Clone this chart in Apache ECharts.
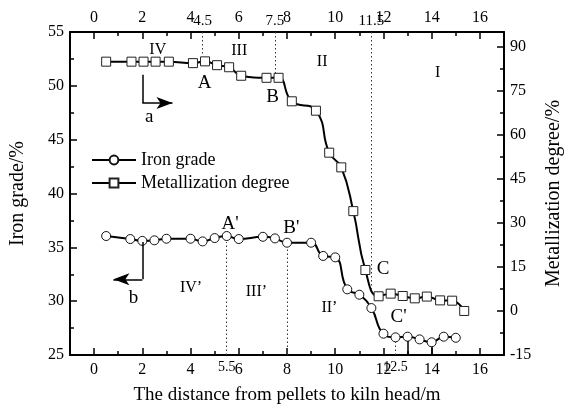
<!DOCTYPE html>
<html>
<head>
<meta charset="utf-8">
<style>html,body{margin:0;padding:0;background:#fff;}#c{width:572px;height:411px;}</style>
<script src="https://cdn.jsdelivr.net/npm/echarts@6/dist/echarts.min.js"></script>
</head>
<body>
<div id="c"></div>
<script>
// ---- data ----
const ironX = [0.5,1.5,2,2.5,3,4,4.5,5,5.5,6,7,7.5,8,9,9.5,10,10.5,11,11.5,12,12.5,13,13.5,14,14.5,15];
const ironGrade = [36.05,35.77,35.6,35.65,35.8,35.8,35.55,35.86,36.05,35.77,35.98,35.83,35.43,35.43,34.2,34.07,31.1,30.6,29.36,26.98,26.64,26.7,26.45,26.18,26.7,26.6];
const metX = [0.5,1.55,2.05,2.55,3.1,4.1,4.6,5.1,5.6,6.1,7.15,7.65,8.2,9.2,9.75,10.25,10.75,11.25,11.8,12.3,12.8,13.3,13.8,14.35,14.85,15.35];
const metallization = [84.9,84.9,84.9,84.9,84.9,84.4,85.0,83.7,83.0,80.1,79.4,79.4,71.4,68.2,53.9,48.9,34.0,13.95,5.0,5.9,5.1,4.3,4.9,3.6,3.5,0.0];
const xMajorTicks = [0,2,4,6,8,10,12,14,16];
const xMinorTicks = [1,3,5,7,9,11,13,15];
const topExtraTicks = [4.5,7.5,11.5];
const bottomExtraTicks = [5.5,12.5];
const seriesNames = ['Iron grade','Metallization degree'];
const xName = 'The distance from pellets to kiln head/m';
const yLeftName = 'Iron grade/%';
const yRightName = 'Metallization degree/%';
// annotation anchors (data space)
const topDotted = [[4.5,95,87],[7.5,95,80.5],[11.5,95,7]];          // on metallization axis
const bottomDotted = [[5.5,25,35.5],[8,25,35.0],[12.5,25,26.2]];     // on iron axis
const bottomSolid = [[13,25,26.3],[14,25,25.8]];
const metLabels = [['IV',2.64,88.9],['III',6.02,88.5],['II',9.46,84.8],['I',14.25,81.0],['A',4.58,77.6],['B',7.4,72.9],['C',11.99,14.3],['a',2.29,66.1]];
const ironLabels = [["A'",5.64,37.16],["B'",8.18,36.8],["C'",12.63,28.5],['II\u2019',9.76,29.36],['IV\u2019',4.02,31.2],['III\u2019',6.73,30.85],['b',1.63,30.3]];
const arrowA = [[2,80.4],[2,70.8],[3.25,70.8]];
const arrowB = [[2,35.5],[2,32.03],[0.8,32.03]];

const FONT = 'Liberation Serif';
const chart = echarts.init(document.getElementById('c'), null, {renderer:'canvas'});

function xAx(pos, ticks, len, labels, showLine, labelSize, margin) {
  return {
    type:'value', position:pos, min:-1, max:17, offset:0,
    axisLine:{show:showLine, onZero:false, lineStyle:{color:'#000', width:2}},
    axisTick:{show:len>0, inside:true, length:len, customValues:ticks, lineStyle:{color:'#000', width:1.5}},
    axisLabel:{show:labels, customValues:ticks, color:'#000', fontFamily:FONT, fontSize:labelSize, margin:margin},
    splitLine:{show:false}, minorTick:{show:false}
  };
}

const xAxes = [
  Object.assign(xAx('bottom', xMajorTicks, 7, true, true, 16, 7), {name:xName, nameLocation:'middle', nameGap:31, nameTextStyle:{color:'#000', fontFamily:FONT, fontSize:19}}),
  xAx('bottom', xMinorTicks, 4, false, false, 16, 7),
  xAx('bottom', bottomExtraTicks, 0, true, false, 14, 5),
  xAx('top', xMajorTicks, 7, true, true, 16, 6),
  xAx('top', xMinorTicks, 4, false, false, 16, 6),
  xAx('top', topExtraTicks, 0, true, false, 15, 3)
];

const yAxes = [
  {type:'value', position:'left', min:25, max:55, interval:5,
   name:yLeftName, nameLocation:'middle', nameGap:42, nameTextStyle:{color:'#000', fontFamily:FONT, fontSize:20},
   axisLine:{show:true, onZero:false, lineStyle:{color:'#000', width:2}},
   axisTick:{inside:true, length:7, lineStyle:{color:'#000', width:1.5}},
   minorTick:{show:true, splitNumber:2, length:4, lineStyle:{color:'#000', width:1.5}},
   axisLabel:{color:'#000', fontFamily:FONT, fontSize:16, margin:6},
   splitLine:{show:false}},
  {type:'value', position:'right', min:-15, max:95, interval:15,
   name:yRightName, nameLocation:'middle', nameGap:40, nameRotate:90, nameTextStyle:{color:'#000', fontFamily:FONT, fontSize:20},
   axisLine:{show:true, onZero:false, lineStyle:{color:'#000', width:2}},
   axisTick:{inside:true, length:7, lineStyle:{color:'#000', width:1.5}},
   minorTick:{show:true, splitNumber:2, length:4, lineStyle:{color:'#000', width:1.5}},
   axisLabel:{color:'#000', fontFamily:FONT, fontSize:16, margin:6},
   splitLine:{show:false}}
];

const dotStyle = {color:'#333', width:1, type:[1.5,2.5]};
function seg(a, b, style, endSym) {
  return [{coord:a, symbol:'none', lineStyle:style}, {coord:b, symbol:endSym||'none', symbolSize:[9,16]}];
}
function textPts(list) {
  return list.map(l => ({name:l[0], coord:[l[1], l[2]], label:{fontSize: (/^[A-Cab]'?$/.test(l[0])) ? 19 : 16}}));
}

const solidStyle = {color:'#000', width:1.5, type:'solid'};
const metMark = [];
topDotted.forEach(d => metMark.push(seg([d[0], d[1]], [d[0], d[2]], dotStyle)));
metMark.push(seg(arrowA[0], arrowA[1], solidStyle));
metMark.push(seg(arrowA[1], arrowA[2], solidStyle, 'arrow'));
const ironMark = [];
bottomDotted.forEach(d => ironMark.push(seg([d[0], d[1]], [d[0], d[2]], dotStyle)));
bottomSolid.forEach(d => ironMark.push(seg([d[0], d[1]], [d[0], d[2]], solidStyle)));
ironMark.push(seg(arrowB[0], arrowB[1], solidStyle));
ironMark.push(seg(arrowB[1], arrowB[2], solidStyle, 'arrow'));

const markLabelBase = {show:true, position:'inside', formatter:'{b}', color:'#000', fontFamily:FONT, fontSize:16};

chart.setOption({
  animation:false,
  backgroundColor:'#fff',
  grid:{left:68, right:59, top:32, bottom:56, containLabel:false},
  legend:{orient:'vertical', left:86, top:146, itemWidth:44, itemHeight:11, itemGap:5,
    textStyle:{color:'#000', fontFamily:FONT, fontSize:18},
    data:seriesNames},
  xAxis:xAxes,
  yAxis:yAxes,
  series:[
    {name:seriesNames[0], type:'line', xAxisIndex:0, yAxisIndex:0,
     data:ironX.map((x,i)=>[x, ironGrade[i]]),
     smooth:0.5, symbol:'circle', symbolSize:9,
     lineStyle:{color:'#000', width:2}, itemStyle:{color:'#fff', borderColor:'#111', borderWidth:1},
     markLine:{silent:true, symbol:['none','none'], label:{show:false}, animation:false, data:ironMark},
     markPoint:{symbol:'rect', symbolSize:1, itemStyle:{color:'rgba(0,0,0,0)'}, label:markLabelBase, data:textPts(ironLabels)}
    },
    {name:seriesNames[1], type:'line', xAxisIndex:0, yAxisIndex:1,
     data:metX.map((x,i)=>[x, metallization[i]]),
     smooth:0.5, symbol:'rect', symbolSize:9,
     lineStyle:{color:'#000', width:2}, itemStyle:{color:'#fff', borderColor:'#222', borderWidth:1},
     markLine:{silent:true, symbol:['none','none'], label:{show:false}, animation:false, data:metMark},
     markPoint:{symbol:'rect', symbolSize:1, itemStyle:{color:'rgba(0,0,0,0)'}, label:markLabelBase, data:textPts(metLabels)}
    }
  ]
});
</script>
</body>
</html>
